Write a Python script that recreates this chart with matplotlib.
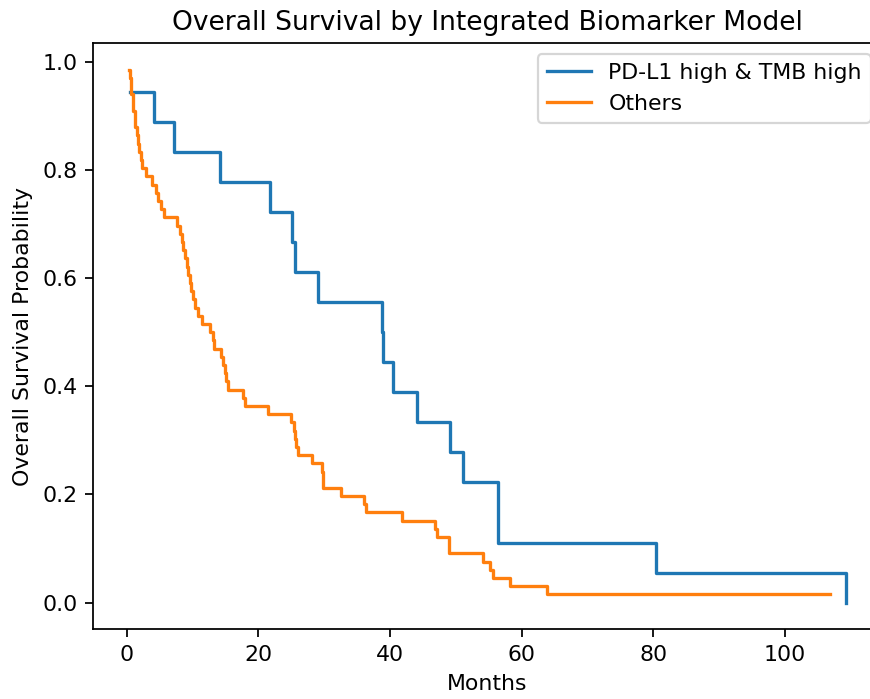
import numpy as np
import matplotlib.pyplot as plt

# KM curve: event times (months)
high_times = [0.5, 4.2, 7.2, 14.2, 21.8, 25.1, 25.6, 29.1, 38.8, 38.9,
              40.5, 44.1, 49.1, 51.1, 56.4, 56.4, 80.4, 109.3]
high_n = 18

other_times = [0.3, 0.5, 0.6, 0.7, 0.9, 1.0, 1.2, 1.3, 1.5, 1.7,
               1.9, 2.1, 2.3, 3.0, 3.9, 4.4, 4.8, 5.2, 5.6, 7.7,
               8.1, 8.4, 8.6, 8.9, 9.1, 9.3, 9.6, 9.8, 10.1, 10.4,
               10.8, 11.4, 12.6, 13.1, 13.3, 14.4, 14.7, 14.9, 15.1, 15.4,
               17.6, 18.0, 21.4, 25.0, 25.4, 25.6, 25.7, 26.0, 28.2, 29.7,
               29.8, 29.9, 32.6, 36.0, 36.4, 41.9, 46.9, 47.1, 49.0, 49.0,
               54.2, 55.2, 55.7, 58.3, 63.8]
other_n = 66
other_last = 106.9  # last censored follow-up

high_surv = [1 - (i + 1) / high_n for i in range(len(high_times))]
other_surv = [1 - (i + 1) / other_n for i in range(len(other_times))]
other_times_all = other_times + [other_last]
other_surv_all = other_surv + [other_surv[-1]]

dpi = 158.7
fig = plt.figure(figsize=(870 / dpi, 699 / dpi), dpi=dpi)
ax = fig.add_axes([0.1067, 0.0997, 0.9069, 0.8385])

ax.step(high_times, high_surv, where="post", label="PD-L1 high & TMB high")
ax.step(other_times_all, other_surv_all, where="post", label="Others")

ax.set_title("Overall Survival by Integrated Biomarker Model")
ax.set_xlabel("Months")
ax.set_ylabel("Overall Survival Probability")
ax.legend()

fig.savefig("out.png", dpi=dpi)
